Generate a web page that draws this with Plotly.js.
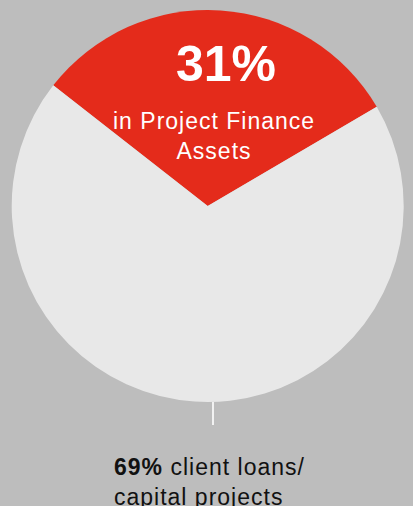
<!DOCTYPE html>
<html>
<head>
<meta charset="utf-8">
<script src="https://cdn.plot.ly/plotly-3.0.1.min.js"></script>
<style>
html,body{margin:0;padding:0;background:#bdbdbd;}
#chart{width:413px;height:506px;}
.annotation[data-index="1"] text, .annotation[data-index="2"] text{letter-spacing:1px;}
</style>
</head>
<body>
<div id="chart"></div>
<script>
const categories = ["in Project Finance Assets", "client loans/ capital projects"];
const values = [31, 69];
const sliceColors = ["#e42b1b", "#e8e8e8"];
const bigLabel = "31%";
const subLabel = "in Project Finance<br>Assets";
const bottomLabelBold = "69%";
const bottomLabelText = " client loans/<br>capital projects";

const W = 413, H = 506;
const cx = 207.7, cy = 206, r = 196;

const trace = {
  type: "pie",
  labels: categories,
  values: values,
  sort: false,
  direction: "clockwise",
  rotation: -52,
  marker: {colors: sliceColors, line: {width: 0}},
  textinfo: "none",
  hoverinfo: "skip",
  showlegend: false,
  domain: {x: [(cx - r) / W, (cx + r) / W], y: [(H - cy - r) / H, (H - cy + r) / H]}
};

const font = "Liberation Sans, Arial, sans-serif";
const layout = {
  width: W, height: H,
  margin: {l: 0, r: 0, t: 0, b: 0},
  paper_bgcolor: "#bdbdbd",
  plot_bgcolor: "#bdbdbd",
  showlegend: false,
  shapes: [{
    type: "line", xref: "paper", yref: "paper",
    x0: 213 / W, x1: 213 / W, y0: (H - 402) / H, y1: (H - 425) / H,
    line: {color: "#f2f2f2", width: 2}
  }],
  annotations: [
    {text: "<b>" + bigLabel + "</b>", xref: "paper", yref: "paper", x: 226 / W, y: (H - 64) / H,
     xanchor: "center", yanchor: "middle", showarrow: false,
     font: {family: font, size: 50, color: "#ffffff"}},
    {text: subLabel, xref: "paper", yref: "paper", x: 214 / W, y: (H - 136) / H,
     xanchor: "center", yanchor: "middle", showarrow: false, align: "center",
     font: {family: font, size: 23, color: "#ffffff"}},
    {text: "<b>" + bottomLabelBold + "</b>" + bottomLabelText, xref: "paper", yref: "paper", x: 112 / W, y: (H - 482) / H,
     xanchor: "left", yanchor: "middle", showarrow: false, align: "left",
     font: {family: font, size: 23, color: "#111111"}}
  ]
};

Plotly.newPlot("chart", [trace], layout, {displayModeBar: false, staticPlot: true});
</script>
</body>
</html>
